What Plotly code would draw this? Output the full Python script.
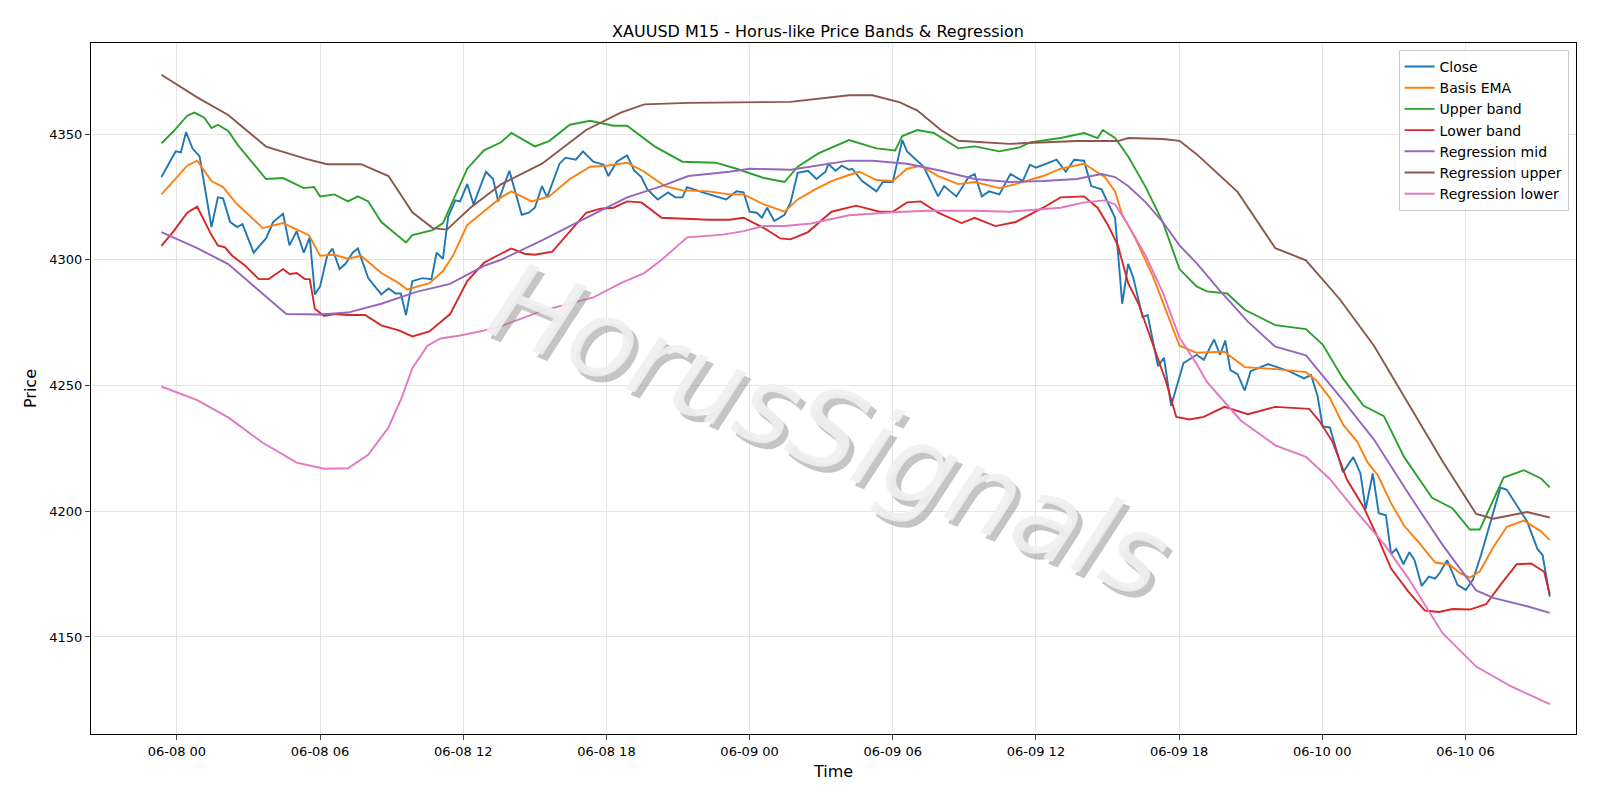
import pandas as pd
import plotly.graph_objects as go

BASE = pd.Timestamp("2025-06-08 00:00")

# minutes from 06-08 00:00, price
close_t = [-39,-3,10,23,39,57,87,103,116,134,152,165,193,224,242,267,283,301,319,334,347,360,378,391,409,424,442,455,481,514,532,550,563,576,592,617,640,653,669,682,700,712,730,746,777,795,808,836,867,885,900,918,931,962,977,1003,1021,1047,1073,1085,1106,1132,1150,1168,1183,1209,1235,1253,1271,1283,1322,1381,1407,1425,1440,1458,1471,1484,1502,1528,1543,1561,1587,1608,1631,1638,1656,1672,1690,1698,1723,1759,1775,1800,1824,1836,1878,1914,1929,1960,1991,2006,2024,2042,2068,2096,2127,2145,2160,2212,2235,2256,2281,2299,2325,2359,2377,2392,2405,2428,2441,2467,2482,2500,2531,2564,2582,2608,2623,2636,2649,2667,2685,2700,2744,2796,2834,2852,2868,2881,2899,2932,2958,2976,2989,3007,3022,3040,3053,3066,3084,3099,3112,3130,3148,3164,3176,3194,3220,3241,3259,3279,3328,3344,3362,3395,3421,3434,3452]
close_p = [4332.9,4343.1,4342.7,4350.8,4344.3,4341.1,4313.0,4324.8,4324.4,4315.0,4313.0,4314.2,4302.8,4308.5,4315.0,4318.3,4305.7,4311.4,4302.8,4308.9,4286.2,4289.4,4301.6,4304.5,4296.3,4298.4,4302.8,4304.5,4292.7,4286.2,4288.6,4286.6,4286.6,4278.0,4291.5,4292.7,4292.3,4302.8,4300.4,4317.1,4323.6,4323.2,4330.1,4322.0,4335.0,4332.1,4323.2,4335.4,4317.9,4318.7,4320.7,4329.3,4324.8,4338.2,4340.6,4339.8,4343.1,4339.0,4337.8,4333.3,4339.0,4341.5,4335.4,4332.9,4328.0,4324.0,4326.8,4324.8,4324.8,4328.9,4326.8,4324.0,4327.2,4326.8,4319.1,4318.7,4316.7,4320.7,4315.4,4317.9,4322.8,4334.6,4335.4,4332.1,4335.0,4338.2,4335.4,4337.4,4335.8,4336.2,4331.3,4327.2,4330.9,4330.9,4347.6,4343.1,4337.0,4325.2,4329.3,4325.2,4332.9,4334.1,4325.2,4327.2,4326.0,4334.1,4331.3,4337.8,4336.6,4339.8,4335.0,4339.8,4339.4,4329.3,4328.0,4316.7,4282.5,4298.4,4292.7,4277.2,4278.0,4257.7,4261.0,4241.9,4258.9,4262.2,4260.2,4268.3,4262.2,4267.9,4256.1,4254.5,4248.0,4255.7,4258.5,4255.7,4252.8,4254.1,4245.9,4233.7,4233.3,4215.5,4221.5,4215.0,4200.8,4215.0,4199.2,4198.4,4183.0,4185.0,4178.9,4183.7,4180.5,4170.3,4174.0,4173.2,4175.6,4180.5,4170.7,4168.7,4172.8,4182.5,4209.4,4208.5,4204.1,4195.9,4185.0,4182.5,4166.0]

ema_t = [-39,0,26,51,87,116,147,172,216,267,296,332,360,396,430,463,514,558,579,635,669,694,730,772,815,841,892,936,988,1039,1080,1132,1175,1227,1271,1337,1389,1425,1476,1528,1561,1605,1646,1690,1716,1759,1800,1836,1870,1914,1965,2006,2068,2109,2178,2222,2281,2333,2359,2377,2410,2454,2487,2521,2564,2634,2685,2762,2839,2865,2899,2932,2968,2994,3020,3053,3086,3122,3164,3200,3225,3251,3276,3310,3344,3387,3430,3452]
ema_p = [4326.0,4332.9,4337.4,4339.4,4331.3,4328.9,4322.8,4319.1,4312.6,4314.6,4312.6,4309.8,4301.6,4302.0,4300.4,4301.6,4294.7,4290.7,4288.2,4290.7,4295.5,4301.6,4313.8,4319.1,4324.8,4327.2,4323.2,4325.2,4332.1,4337.0,4337.4,4338.6,4335.0,4329.3,4327.6,4327.2,4326.0,4326.0,4322.0,4319.1,4324.0,4328.0,4331.3,4333.7,4335.0,4331.7,4331.3,4336.2,4337.4,4333.3,4330.1,4330.9,4328.5,4330.1,4333.3,4336.2,4338.2,4332.9,4327.2,4317.9,4308.5,4293.5,4280.1,4265.8,4263.0,4263.4,4257.3,4256.5,4255.3,4252.0,4245.1,4234.5,4227.6,4219.4,4214.2,4203.2,4194.2,4187.7,4179.6,4178.8,4175.5,4173.6,4176.0,4185.7,4193.8,4196.3,4192.0,4188.5]

up_t = [-39,-8,26,44,69,87,103,129,154,198,224,267,319,345,360,396,430,455,481,514,576,592,643,669,705,730,772,815,841,900,936,988,1039,1098,1132,1201,1271,1355,1407,1476,1528,1561,1613,1690,1759,1806,1824,1862,1903,1965,2006,2068,2119,2145,2222,2281,2315,2328,2359,2392,2436,2479,2521,2564,2590,2641,2685,2762,2839,2881,2932,2984,3035,3086,3156,3207,3251,3276,3336,3387,3430,3452]
up_p = [4346.3,4351.2,4357.3,4358.5,4356.5,4352.4,4353.7,4351.2,4345.5,4337.0,4332.1,4332.5,4328.5,4328.9,4325.2,4326.0,4323.2,4325.2,4323.2,4315.0,4306.9,4309.8,4311.8,4314.6,4327.2,4336.2,4343.5,4346.7,4350.4,4345.1,4347.2,4353.7,4355.3,4353.3,4353.3,4345.1,4339.0,4338.6,4336.2,4332.5,4330.9,4337.0,4342.3,4347.6,4344.3,4343.5,4349.2,4351.6,4350.4,4344.3,4345.1,4343.1,4344.7,4346.7,4348.4,4350.4,4348.4,4351.6,4348.4,4341.1,4328.9,4315.0,4296.3,4289.4,4287.4,4286.6,4280.1,4274.0,4272.4,4266.3,4252.8,4241.9,4237.8,4221.5,4205.3,4201.2,4192.7,4192.7,4213.4,4216.3,4213.0,4209.5]

low_t = [-39,-8,26,51,87,103,121,139,172,206,231,267,283,301,322,334,347,370,396,430,473,514,558,592,635,687,730,772,815,841,874,900,944,988,1029,1065,1098,1132,1168,1219,1271,1337,1389,1425,1476,1517,1543,1587,1646,1690,1708,1767,1800,1836,1870,1914,1973,2006,2058,2109,2178,2222,2281,2315,2341,2366,2392,2418,2454,2487,2513,2546,2582,2634,2693,2762,2847,2873,2906,2942,2984,3020,3053,3097,3138,3174,3207,3251,3292,3328,3369,3405,3438,3452]
low_p = [4305.5,4311.4,4318.7,4321.1,4309.8,4305.7,4304.9,4301.6,4297.6,4292.3,4292.3,4296.3,4294.3,4294.7,4292.3,4292.3,4280.5,4277.6,4278.4,4278.0,4278.0,4273.9,4271.9,4269.5,4271.5,4278.4,4291.5,4298.8,4302.4,4304.5,4302.4,4302.0,4303.2,4311.0,4318.7,4320.3,4320.7,4323.2,4322.8,4316.7,4316.3,4315.9,4315.9,4316.7,4312.6,4308.5,4308.1,4311.0,4319.1,4320.7,4321.5,4319.1,4319.1,4322.8,4323.2,4318.7,4314.6,4316.7,4313.4,4315.0,4320.7,4324.8,4325.2,4320.7,4313.8,4305.7,4290.7,4282.5,4266.3,4251.6,4237.5,4236.5,4237.5,4241.5,4238.6,4241.5,4240.7,4235.8,4227.6,4212.6,4201.6,4189.4,4177.2,4167.9,4160.5,4159.9,4161.1,4160.9,4163.0,4170.7,4178.9,4179.2,4175.9,4167.0]

rmid_t = [-39,51,129,216,275,360,430,514,602,687,772,815,918,1003,1132,1219,1286,1389,1440,1543,1605,1690,1749,1836,1921,2006,2094,2178,2263,2325,2359,2392,2436,2479,2521,2564,2623,2693,2762,2839,2924,3010,3097,3182,3267,3310,3395,3452]
rmid_p = [4311.0,4304.6,4298.3,4286.5,4278.4,4278.2,4279.0,4282.5,4287.2,4290.4,4297.6,4300.0,4307.7,4314.6,4324.8,4329.3,4333.3,4335.0,4336.2,4335.8,4337.4,4339.4,4339.4,4338.2,4335.4,4332.1,4330.9,4331.3,4332.1,4334.1,4332.9,4329.3,4322.8,4315.0,4305.7,4298.7,4287.6,4275.4,4265.4,4262.0,4245.7,4228.5,4206.9,4186.7,4168.5,4165.5,4162.2,4159.6]

rup_t = [-39,51,129,224,327,378,463,532,592,643,679,738,815,918,1029,1116,1175,1235,1286,1543,1646,1690,1749,1818,1862,1921,1965,2094,2263,2366,2392,2479,2521,2564,2667,2762,2839,2924,3010,3097,3182,3267,3310,3395,3452]
rup_p = [4373.6,4364.6,4357.6,4345.0,4340.0,4338.0,4338.0,4333.3,4318.9,4312.6,4312.0,4320.7,4330.0,4338.2,4351.6,4358.5,4361.8,4362.2,4362.4,4362.8,4364.6,4365.4,4365.4,4362.6,4359.3,4351.6,4347.3,4346.1,4347.2,4347.2,4348.4,4348.0,4347.3,4342.0,4327.0,4304.6,4299.8,4284.3,4265.8,4242.4,4220.0,4198.9,4197.0,4199.7,4197.5]

rlow_t = [-39,51,129,216,301,370,430,481,532,566,592,630,663,712,772,815,918,1047,1116,1175,1219,1283,1373,1425,1476,1528,1595,1690,1800,1888,2006,2094,2222,2281,2333,2359,2392,2436,2479,2521,2564,2590,2675,2762,2839,2899,2968,3035,3097,3182,3267,3354,3452]
rlow_p = [4249.6,4244.2,4237.3,4227.2,4219.3,4216.9,4217.1,4222.4,4233.3,4245.5,4256.9,4265.8,4268.7,4269.9,4271.8,4273.6,4279.7,4285.0,4290.7,4294.7,4300.0,4308.9,4310.0,4311.4,4313.4,4313.4,4314.4,4317.7,4318.9,4319.5,4319.5,4319.1,4320.7,4322.8,4323.6,4322.0,4313.8,4301.6,4287.0,4269.1,4258.5,4251.4,4236.1,4226.2,4221.6,4212.8,4199.4,4187.0,4173.2,4151.6,4138.2,4130.4,4123.3]

tick_hours = [0, 6, 12, 18, 24, 30, 36, 42, 48, 54]
tick_labels = ["06-08 00", "06-08 06", "06-08 12", "06-08 18", "06-09 00",
               "06-09 06", "06-09 12", "06-09 18", "06-10 00", "06-10 06"]
y_ticks = [4150, 4200, 4250, 4300, 4350]


def ts(mins):
    return [BASE + pd.Timedelta(minutes=m) for m in mins]


series = [
    ("Close", close_t, close_p, "#1f77b4"),
    ("Basis EMA", ema_t, ema_p, "#ff7f0e"),
    ("Upper band", up_t, up_p, "#2ca02c"),
    ("Lower band", low_t, low_p, "#d62728"),
    ("Regression mid", rmid_t, rmid_p, "#9467bd"),
    ("Regression upper", rup_t, rup_p, "#8c564b"),
    ("Regression lower", rlow_t, rlow_p, "#e377c2"),
]

fig = go.Figure()
for name, t, p, c in series:
    fig.add_trace(go.Scatter(x=ts(t), y=p, mode="lines", name=name,
                             line=dict(color=c, width=1.9)))

# watermark
for dx, dy, col in [(5, 6, "rgba(140,140,140,0.5)"), (0, 0, "rgba(240,240,240,0.9)")]:
    fig.add_annotation(text="<i>HorusSignals</i>", xref="paper", yref="paper",
                       x=0.497, y=0.44, xshift=dx, yshift=-dy, showarrow=False,
                       textangle=22, font=dict(size=110, family="DejaVu Sans", color=col))

fig.update_layout(
    width=1636, height=818,
    paper_bgcolor="white", plot_bgcolor="white",
    margin=dict(l=91, r=60, t=43, b=84),
    font=dict(family="DejaVu Sans", size=13, color="black"),
    title=dict(text="XAUUSD M15 - Horus-like Price Bands & Regression", x=0.5, xanchor="center",
               y=0.968, font=dict(size=16)),
    legend=dict(x=0.995, y=0.99, xanchor="right", yanchor="top", bgcolor="rgba(255,255,255,0.85)",
                bordercolor="#cccccc", borderwidth=1, font=dict(size=14)),
    xaxis=dict(title=dict(text="Time", standoff=8),
               range=[BASE + pd.Timedelta(minutes=-216), BASE + pd.Timedelta(minutes=3518)],
               tickvals=[BASE + pd.Timedelta(hours=h) for h in tick_hours], ticktext=tick_labels,
               showgrid=True, gridcolor="#e5e5e5", ticks="outside", ticklen=5,
               showline=True, linecolor="black", mirror=True, zeroline=False),
    yaxis=dict(title=dict(text="Price", standoff=8), range=[4111.4, 4386.2], tickvals=y_ticks,
               showgrid=True, gridcolor="#e5e5e5", ticks="outside", ticklen=5,
               showline=True, linecolor="black", mirror=True, zeroline=False),
)

fig.write_html("out.html", config={"displayModeBar": False},
               post_script="document.body.style.margin='0';document.body.style.overflow='hidden';")
